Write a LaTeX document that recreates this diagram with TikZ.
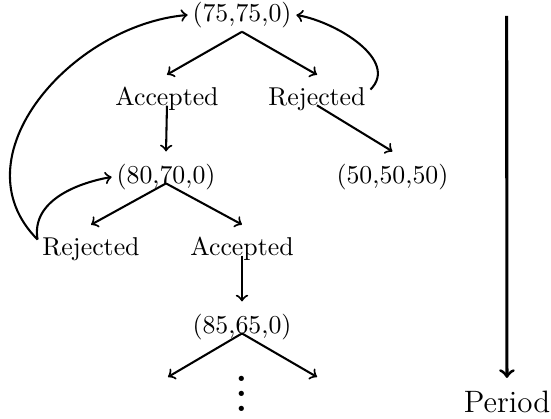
\documentclass[tikz,border=0pt]{standalone}
\begin{document}
\begin{tikzpicture}[->, thick, offer/.style={inner xsep=1.5pt, inner ysep=4.5pt}]
    \useasboundingbox (0,0) rectangle (7.507,-5.708);
    %nodes
    \node[offer] at (3.297,-0.204) (start) {(75,75,0)};
    \node[offer] at (2.275,-1.349) (acc1) {Accepted};
    \node[offer] at (4.319,-1.349) (rej1) {Rejected};
    \node[offer] at (2.262,-2.411) (second) {(80,70,0)};
    \node[offer] at (5.347,-2.411) (split) {(50,50,50)};
    \node[offer] at (1.240,-3.392) (rej2) {Rejected};
    \node[offer] at (3.297,-3.392) (acc2) {Accepted};
    \node[offer] at (3.297,-4.455) (third) {(85,65,0)};
    \node[scale=1.45] at (3.301,-5.21) (more) {\Large$\vdots$};
    \coordinate (left3) at (2.289,-5.136);
    \coordinate (right3) at (4.319,-5.136);
    \node[offer] at (6.907,-5.470) (period) {\large Period};
    \coordinate (time) at (6.903,-0.218);
    %edges
    \path
        ([yshift=-4pt]start.base) edge (acc1.north)
        ([yshift=-4pt]start.base) edge (rej1.north)
        (acc1.base) edge (second.north)
        (rej1.base) edge (split.north)
        (rej1.10) edge[out=45, in=-10] (start.east)
        (second.base) edge (rej2.north)
        (second.base) edge (acc2.north)
        (rej2.170) edge[out=100, in=190] (second.west)
        (rej2.170) edge[out=135, in=185, looseness=1.1] (start.west)
        (acc2.base) edge (third.north)
        (third.base) edge (left3)
        (third.base) edge (right3);
    \draw[very thick] (time) -- (period.north);
\end{tikzpicture}
\end{document}
